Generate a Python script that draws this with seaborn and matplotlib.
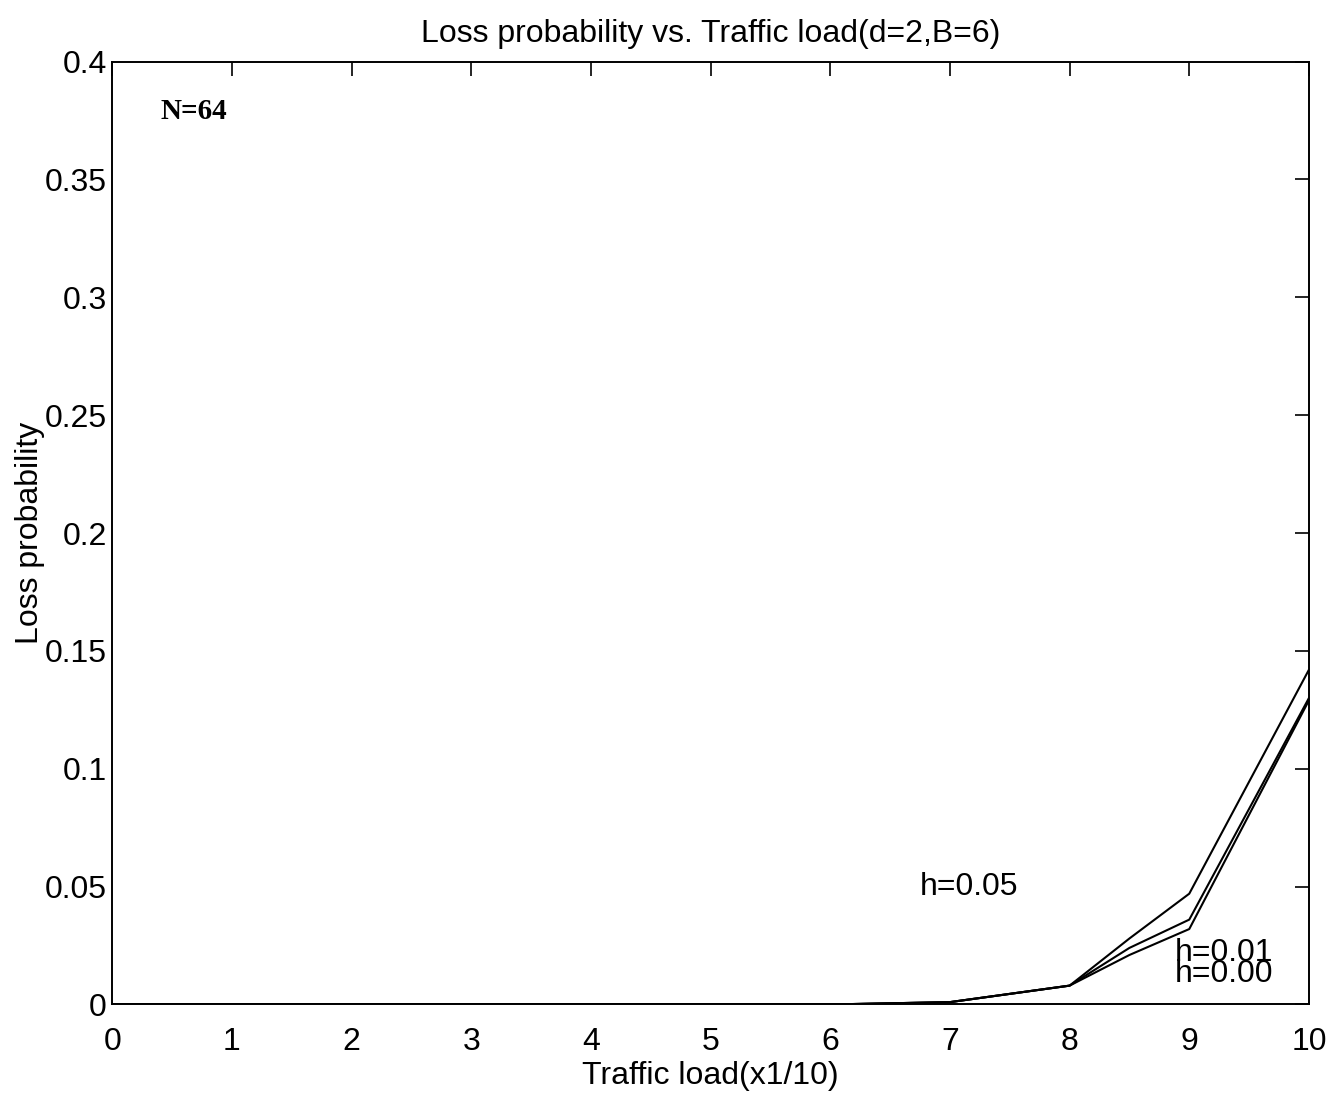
"""Loss probability vs. traffic load, d=2, B=6, N=64."""
import matplotlib
matplotlib.use("Agg")
import matplotlib.pyplot as plt
import numpy as np
import pandas as pd
import seaborn as sns
from matplotlib.ticker import FuncFormatter, MultipleLocator

# traffic load (x1/10) and loss probability per h value
load = [0, 1, 2, 3, 4, 5, 6, 7, 8, 8.5, 9, 10]
loss_h005 = [0, 0, 0, 0, 0, 0, 0, 0.001, 0.008, 0.028, 0.047, 0.142]
loss_h001 = [0, 0, 0, 0, 0, 0, 0, 0.001, 0.008, 0.024, 0.036, 0.130]
loss_h000 = [0, 0, 0, 0, 0, 0, 0, 0.001, 0.008, 0.021, 0.032, 0.129]
series_names = ["h=0.05", "h=0.01", "h=0.00"]

sns.set_theme(style="white", rc={"text.color": "black", "axes.labelcolor": "black",
                                 "xtick.color": "black", "ytick.color": "black"})
plt.rcParams["font.family"] = ["Liberation Sans", "DejaVu Sans"]

df = pd.DataFrame({
    "load": load * 3,
    "loss": loss_h005 + loss_h001 + loss_h000,
    "h": np.repeat(series_names, len(load)),
})

fig = plt.figure(figsize=(13.37, 10.99), dpi=100)
ax = fig.add_axes([0.084, 0.086, 0.895, 0.858])
sns.lineplot(data=df, x="load", y="loss", hue="h",
             palette=["black"] * 3, linewidth=1.5, legend=False, ax=ax)

ax.set_xlim(0, 10)
ax.set_ylim(0, 0.4)
ax.xaxis.set_major_locator(MultipleLocator(1))
ax.yaxis.set_major_locator(MultipleLocator(0.05))
ax.yaxis.set_major_formatter(FuncFormatter(lambda v, _: f"{v:g}"))
ax.tick_params(direction="in", length=10, width=1.2, top=True, right=True,
               labelsize=23)
ax.tick_params(axis="x", pad=16)
ax.tick_params(axis="y", pad=4)
for side in ax.spines.values():
    side.set_color("black")
    side.set_linewidth(1.4)

ax.set_xlabel("Traffic load(x1/10)", fontsize=23, labelpad=3)
ax.set_ylabel("Loss probability", fontsize=23, labelpad=0)
ax.set_title("Loss probability vs. Traffic load(d=2,B=6)", fontsize=23, pad=14)

ax.text(0.4, 0.379, "N=64", fontsize=21, fontweight="bold",
        family=["Liberation Serif", "DejaVu Serif"], va="center")
ax.text(6.75, 0.05, "h=0.05", fontsize=23, va="center")
ax.text(8.88, 0.022, "h=0.01", fontsize=23, va="center")
ax.text(8.88, 0.013, "h=0.00", fontsize=23, va="center")

fig.savefig("out.png", dpi=100)
